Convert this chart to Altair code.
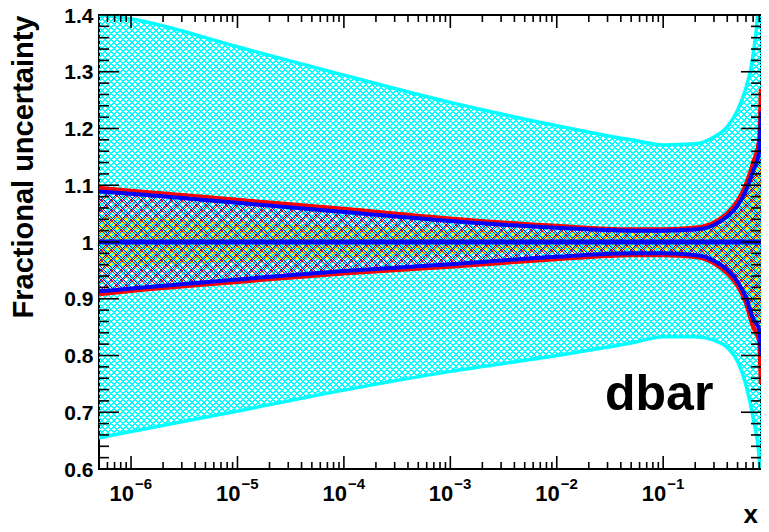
import altair as alt
import pandas as pd

# ---------------- data ----------------
x_pts = [5e-7, 1e-6, 1e-5, 1e-4, 1e-3, 1e-2, 0.05, 0.1, 0.2, 0.3, 0.4, 0.5, 0.6, 0.7, 0.8, 0.83]
cyan_hi = [1.400, 1.393, 1.344, 1.294, 1.246, 1.205, 1.180, 1.171, 1.173, 1.185, 1.203, 1.232, 1.272, 1.330, 1.45, 1.58]
cyan_lo = [0.655, 0.666, 0.702, 0.739, 0.772, 0.800, 0.822, 0.833, 0.833, 0.827, 0.814, 0.790, 0.748, 0.690, 0.616, 0.53]
yel_hi = [1.046, 1.044, 1.036, 1.027, 1.022, 1.017, 1.017, 1.017, 1.018, 1.025, 1.038, 1.056, 1.082, 1.115, 1.150, 1.20]
yel_lo = [0.956, 0.958, 0.965, 0.972, 0.978, 0.983, 0.983, 0.983, 0.982, 0.975, 0.962, 0.944, 0.915, 0.878, 0.855, 0.82]
red_hi = [1.095, 1.090, 1.074, 1.058, 1.041, 1.028, 1.022, 1.022, 1.025, 1.034, 1.050, 1.072, 1.101, 1.139, 1.180, 1.27]
red_lo = [0.908, 0.914, 0.930, 0.945, 0.957, 0.970, 0.977, 0.977, 0.974, 0.963, 0.945, 0.923, 0.893, 0.851, 0.825, 0.75]
blue_hi = [1.089, 1.085, 1.069, 1.053, 1.037, 1.025, 1.020, 1.020, 1.022, 1.030, 1.045, 1.064, 1.091, 1.125, 1.160, 1.23]
blue_lo = [0.913, 0.918, 0.934, 0.949, 0.961, 0.974, 0.980, 0.980, 0.977, 0.967, 0.951, 0.930, 0.902, 0.865, 0.845, 0.80]
center = [1.0]

y_major = [0.6, 0.7, 0.8, 0.9, 1.0, 1.1, 1.2, 1.3, 1.4]
y_minor = [round(0.6 + 0.02 * i, 2) for i in range(41) if i % 5]
x_major = [1e-6, 1e-5, 1e-4, 1e-3, 1e-2, 1e-1]
x_exp = ["\u22126", "\u22125", "\u22124", "\u22123", "\u22122", "\u22121"]
x_minor = [m * 10.0 ** e for e in range(-7, 0) for m in range(2, 10) if 5.5e-7 < m * 10.0 ** e < 0.83]

label_text = ["dbar"]
ytitle = ["Fractional uncertainty"]
xtitle = ["x"]

# ---------------- layout ----------------
W, H = 662, 454
Y0, Y1 = 0.6, 1.4
FONT = "Liberation Sans"

df = pd.DataFrame({"x": x_pts, "cyan_hi": cyan_hi, "cyan_lo": cyan_lo,
                   "yel_hi": yel_hi, "yel_lo": yel_lo, "red_hi": red_hi, "red_lo": red_lo,
                   "blue_hi": blue_hi, "blue_lo": blue_lo})

xs = alt.Scale(type="log", domain=[5e-7, 0.83], nice=False)
ys = alt.Scale(domain=[Y0, Y1], nice=False, zero=False)
yaxis = alt.Axis(values=y_major, format=".1~f", labelFontSize=21, labelFont=FONT,
                 labelFontWeight="bold", labelColor="black", ticks=False, tickSize=0,
                 domain=False, grid=False, labelPadding=6, labelOffset=1, title=None)


def X(f="x"):
    return alt.X(f"{f}:Q", scale=xs, axis=None)


def Y(f):
    return alt.Y(f"{f}:Q", scale=ys, axis=yaxis)


def ypix(v):
    return (Y1 - v) / (Y1 - Y0) * H


def hatch(hi, lo, period, cw, rgb, direction, phase=0.0):
    """Diagonal stripe fill (style only) over the band's bounding box at 45 degrees.
    period and cw are measured along x+y (resp. x-y) in pixels."""
    top, bot = ypix(max(hi)), ypix(min(lo))
    h = bot - top
    r = h / W
    k = (1 + r) / (1 + r * r)
    L = W + h
    col = f"rgb({rgb})"
    tr = f"rgba({rgb},0)"
    stops = []
    c = phase
    while c < L:
        a = round(c / L, 6)
        b = round(min((c + cw) / L, 1.0), 6)
        stops += [{"offset": a, "color": tr}, {"offset": a, "color": col},
                  {"offset": b, "color": col}, {"offset": b, "color": tr}]
        c += period
    if direction == "/":
        x1, y1, x2, y2 = 0, 0, k, k * r
    else:
        x1, y1, x2, y2 = 0, 1, k, 1 - k * r
    return {"gradient": "linear", "x1": x1, "y1": y1, "x2": x2, "y2": y2, "stops": stops}


base = alt.Chart(df)


def band(hi, lo, fill):
    return base.mark_area(fill=fill, interpolate="monotone", clip=True, strokeWidth=0).encode(
        x=X(), y=Y(hi), y2=alt.Y2(f"{lo}:Q"))


def line(f, color, width):
    return base.mark_line(color=color, strokeWidth=width, interpolate="monotone", clip=True).encode(
        x=X(), y=Y(f))


layers = []
# yellow band (solid)
layers.append(band("yel_hi", "yel_lo", "#ffff00"))
# cyan cross-hatch
layers.append(band("cyan_hi", "cyan_lo", hatch(cyan_hi, cyan_lo, 6, 2, "0,255,255", "/")))
layers.append(band("cyan_hi", "cyan_lo", hatch(cyan_hi, cyan_lo, 6, 2, "0,255,255", "\\")))
# red cross-hatch
layers.append(band("red_hi", "red_lo", hatch(red_hi, red_lo, 10, 1, "255,0,0", "/", 5.0)))
layers.append(band("red_hi", "red_lo", hatch(red_hi, red_lo, 10, 1, "255,0,0", "\\", 5.0)))
# blue cross-hatch
layers.append(band("blue_hi", "blue_lo", hatch(blue_hi, blue_lo, 10, 1, "0,0,255", "/")))
layers.append(band("blue_hi", "blue_lo", hatch(blue_hi, blue_lo, 10, 1, "0,0,255", "\\")))
# outlines
layers += [line("cyan_hi", "#00ffff", 3.5), line("cyan_lo", "#00ffff", 3.5),
           line("red_hi", "#ff0000", 4.5), line("red_lo", "#ff0000", 4.5),
           line("blue_hi", "#0000ff", 4), line("blue_lo", "#0000ff", 4)]
# central line
layers.append(alt.Chart(pd.DataFrame({"v": center})).mark_rule(color="#0000ff", strokeWidth=5).encode(
    y=Y("v")))

# ---------------- ticks (inside the frame, on all sides) ----------------
TK = 1.6
ymaj = alt.Chart(pd.DataFrame({"v": y_major}))
ymin = alt.Chart(pd.DataFrame({"v": y_minor}))
xmaj = alt.Chart(pd.DataFrame({"v": x_major, "e": x_exp}))
xmin = alt.Chart(pd.DataFrame({"v": x_minor}))

layers.append(ymaj.mark_rule(color="black", strokeWidth=TK).encode(
    y=Y("v"), x=alt.value(0), x2=alt.value(20)))
layers.append(ymaj.mark_rule(color="black", strokeWidth=TK).encode(
    y=Y("v"), x=alt.value(W), x2=alt.value(W - 20)))
layers.append(ymin.mark_rule(color="black", strokeWidth=TK).encode(
    y=Y("v"), x=alt.value(0), x2=alt.value(10)))
layers.append(ymin.mark_rule(color="black", strokeWidth=TK).encode(
    y=Y("v"), x=alt.value(W), x2=alt.value(W - 10)))
layers.append(xmaj.mark_rule(color="black", strokeWidth=TK).encode(
    x=X("v"), y=alt.value(H), y2=alt.value(H - 13)))
layers.append(xmaj.mark_rule(color="black", strokeWidth=TK).encode(
    x=X("v"), y=alt.value(0), y2=alt.value(13)))
layers.append(xmin.mark_rule(color="black", strokeWidth=TK).encode(
    x=X("v"), y=alt.value(H), y2=alt.value(H - 7)))
layers.append(xmin.mark_rule(color="black", strokeWidth=TK).encode(
    x=X("v"), y=alt.value(0), y2=alt.value(7)))

# x tick labels: "10" with a raised exponent
layers.append(xmaj.mark_text(font=FONT, fontWeight="bold", fontSize=22, align="right",
                             baseline="alphabetic", dx=3, color="black").encode(
    x=X("v"), y=alt.value(H + 32), text=alt.value("10")))
layers.append(xmaj.mark_text(font=FONT, fontWeight="bold", fontSize=15, align="left",
                             baseline="alphabetic", dx=4, color="black").encode(
    x=X("v"), y=alt.value(H + 20), text="e:N"))

# texts
layers.append(alt.Chart(pd.DataFrame({"t": label_text})).mark_text(
    font=FONT, fontWeight="bold", fontSize=50, align="left", baseline="alphabetic", color="black").encode(
    x=alt.value(506), y=alt.value(395), text="t:N"))
layers.append(alt.Chart(pd.DataFrame({"t": ytitle})).mark_text(
    font=FONT, fontWeight="bold", fontSize=29, align="center", baseline="alphabetic", angle=270,
    color="black").encode(x=alt.value(-66), y=alt.value(152), text="t:N"))
layers.append(alt.Chart(pd.DataFrame({"t": xtitle})).mark_text(
    font=FONT, fontWeight="bold", fontSize=26, align="right", baseline="alphabetic", color="black").encode(
    x=alt.value(W - 3), y=alt.value(H + 54), text="t:N"))

chart = alt.layer(*layers).properties(
    width=W, height=H,
    autosize=alt.AutoSizeParams(type="none"),
    padding={"left": 91, "top": 7, "right": 0, "bottom": 62},
    background="white",
).configure_view(stroke="black", strokeWidth=2)

chart.save("out.html", embed_options={"renderer": "svg", "actions": False})
